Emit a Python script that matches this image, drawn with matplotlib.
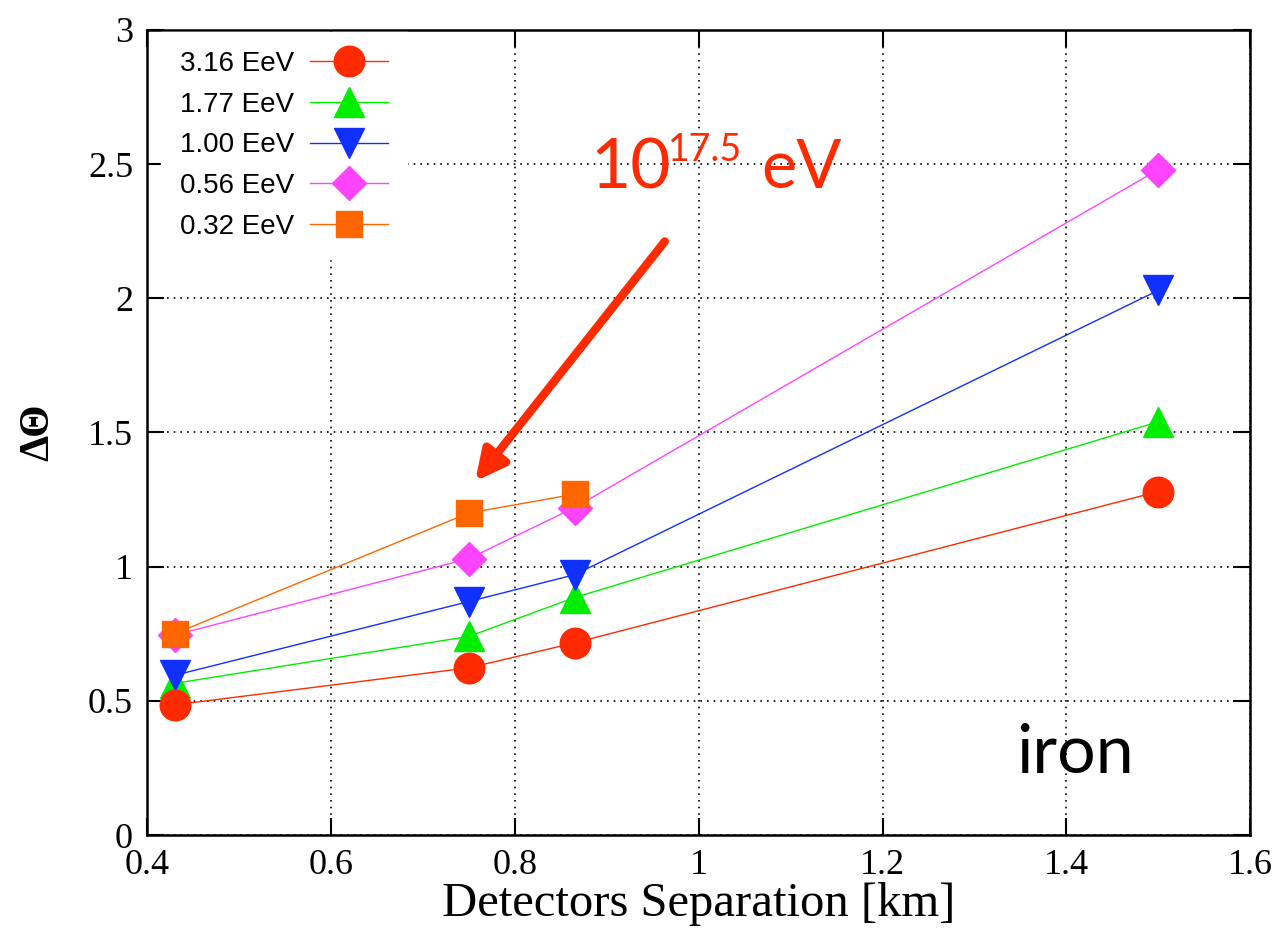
import matplotlib.pyplot as plt

# detector separation [km]
sep = [0.43, 0.75, 0.865, 1.5]

e316 = [0.485, 0.623, 0.716, 1.28]
e177 = [0.565, 0.74, 0.885, 1.54]
e100 = [0.595, 0.87, 0.97, 2.03]
e056 = [0.745, 1.03, 1.22, 2.48]
sep032 = [0.43, 0.75, 0.865]
e032 = [0.75, 1.20, 1.27]

labels = ['3.16 EeV', '1.77 EeV', '1.00 EeV', '0.56 EeV', '0.32 EeV']

fig = plt.figure(figsize=(12.86, 9.31), dpi=100)
ax = fig.add_axes([0.1143, 0.1031, 0.858, 0.8647])

ax.plot(sep, e316, color='#ff2a00', lw=1, marker='o', ms=22, label=labels[0], zorder=5)
ax.plot(sep, e177, color='#00ee00', lw=1, marker='^', ms=22, label=labels[1], zorder=4)
ax.plot(sep, e100, color='#1030ff', lw=1, marker='v', ms=22, label=labels[2], zorder=4)
ax.plot(sep, e056, color='#ff44ff', lw=1, marker='D', ms=17, label=labels[3], zorder=3)
ax.plot(sep032, e032, color='#ff6600', lw=1, marker='s', ms=19, label=labels[4], zorder=6)

ax.set_xlim(0.4, 1.6)
ax.set_ylim(0, 3)
ax.set_xticks([0.4, 0.6, 0.8, 1.0, 1.2, 1.4, 1.6])
ax.set_xticklabels(['0.4', '0.6', '0.8', '1', '1.2', '1.4', '1.6'])
ax.set_yticks([0, 0.5, 1, 1.5, 2, 2.5, 3])
ax.set_yticklabels(['0', '0.5', '1', '1.5', '2', '2.5', '3'])
ax.grid(True, color='black', linestyle=(0, (1, 3)), lw=1.2)
ax.tick_params(direction='in', top=True, right=True, length=12, width=1.5, labelsize=26)
ax.tick_params(axis='x', pad=10)
ax.tick_params(axis='y', pad=10)
for lab in ax.get_xticklabels() + ax.get_yticklabels():
    lab.set_family('Liberation Serif')
for s in ax.spines.values():
    s.set_linewidth(1.8)

ax.set_xlabel('Detectors Separation [km]', family='Liberation Serif', fontsize=35, labelpad=0)
ax.set_ylabel('ΔΘ', family='Liberation Serif', fontweight='bold', fontsize=30, labelpad=22)

leg = ax.legend(loc='upper left', bbox_to_anchor=(0.013, 0.997), borderaxespad=0,
                markerfirst=False, frameon=True, fancybox=False, edgecolor='white',
                framealpha=1, prop={'family': 'Liberation Sans', 'size': 20},
                handlelength=2.8, handletextpad=0.58, labelspacing=0.53, borderpad=0.67)
leg.set_zorder(10)

# annotation 10^17.5 eV
ax.text(0.882, 2.41, '10', color='#ff2a00', fontsize=50, family='Lato')
ax.text(0.967, 2.51, '17.5', color='#ff2a00', fontsize=27, family='Lato')
ax.text(1.068, 2.41, 'eV', color='#ff2a00', fontsize=48, family='Lato')
ax.annotate('', xy=(0.755, 1.31), xytext=(0.965, 2.22),
            arrowprops=dict(arrowstyle='-|>', color='#ff2a00', lw=6, mutation_scale=45))
ax.text(1.345, 0.23, 'iron', fontsize=49, family='Lato')

plt.savefig('out.png', dpi=100)
